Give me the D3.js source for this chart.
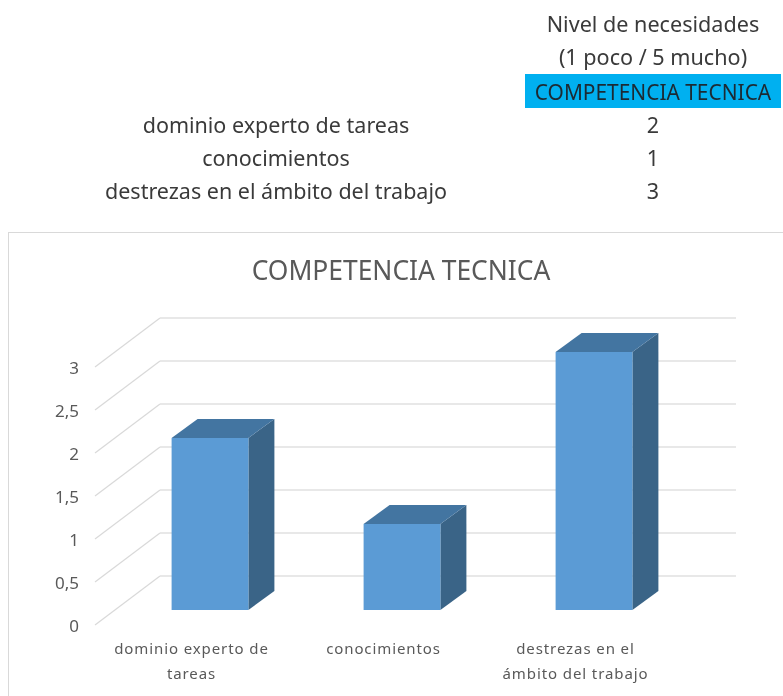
<!DOCTYPE html>
<html>
<head>
<meta charset="utf-8">
<script src="https://cdn.jsdelivr.net/npm/d3@7"></script>
<style>
html, body { margin: 0; padding: 0; background: #fff; }
svg { display: block; filter: blur(0.4px); }
text { font-family: "Noto Sans", sans-serif; }
</style>
</head>
<body>
<div id="chart"></div>
<script>
const categories = ["dominio experto de tareas", "conocimientos", "destrezas en el ámbito del trabajo"];
const values = [2, 1, 3];
const category_lines = [["dominio experto de", "tareas"], ["conocimientos"], ["destrezas en el", "ámbito del trabajo"]];
const y_ticks = [0, 0.5, 1, 1.5, 2, 2.5, 3];
const table_head = ["Nivel de necesidades", "(1 poco / 5 mucho)"];
const chart_title = "COMPETENCIA TECNICA";

var width = 783;
var height = 696;
// offset of the back wall against the front of the floor
var wall = { "dx": 65, "dy": -49 };
// offset of the back of a bar against its front face
var depth = { "dx": 26, "dy": -19 };
var bar_lift = 15;

var svg = d3.select("#chart")
    .append("svg")
    .attr("width", width)
    .attr("height", height);

// table on top
var table_x = 653;
var label_x = 276;
svg.selectAll(".head").data(table_head)
    .enter().append("text")
    .attr("class", "head")
    .attr("x", table_x)
    .attr("y", function (d, i) { return 32 + i * 33; })
    .attr("text-anchor", "middle")
    .attr("font-size", 21.6)
    .attr("fill", "#3a3a3a")
    .text(function (d) { return d; });
svg.append("rect")
    .attr("x", 525).attr("y", 74)
    .attr("width", 256).attr("height", 34)
    .attr("fill", "#00b0f0");
svg.append("text")
    .attr("x", table_x).attr("y", 100)
    .attr("text-anchor", "middle")
    .attr("font-size", 20.9)
    .attr("fill", "#1c2a33")
    .text(chart_title);
svg.selectAll(".row-label").data(categories)
    .enter().append("text")
    .attr("class", "row-label")
    .attr("x", label_x)
    .attr("y", function (d, i) { return 133 + i * 33; })
    .attr("text-anchor", "middle")
    .attr("font-size", 21.5)
    .attr("fill", "#3a3a3a")
    .text(function (d) { return d; });
svg.selectAll(".row-value").data(values)
    .enter().append("text")
    .attr("class", "row-value")
    .attr("x", table_x)
    .attr("y", function (d, i) { return 133 + i * 33; })
    .attr("text-anchor", "middle")
    .attr("font-size", 21.5)
    .attr("fill", "#3a3a3a")
    .text(function (d) { return d; });

// chart frame runs off the picture to the right and bottom
svg.append("rect")
    .attr("x", 8.5).attr("y", 232.5)
    .attr("width", 800).attr("height", 500)
    .attr("fill", "#fff")
    .attr("stroke", "#d9d9d9")
    .attr("stroke-width", 1);
svg.append("text")
    .attr("x", 401).attr("y", 280)
    .attr("text-anchor", "middle")
    .attr("font-size", 26.4)
    .attr("fill", "#595959")
    .text(chart_title);

var y_scale = d3.scaleLinear().domain([0, 3]).range([625, 367]);
var x_scale = d3.scaleBand()
    .domain(categories)
    .range([114, 690])
    .paddingInner(0.6)
    .paddingOuter(0.3);

// gridlines: floor side and back wall
var front_x = 95;
var wall_right = 736;
svg.selectAll(".side-line").data(y_ticks)
    .enter().append("line")
    .attr("class", "side-line")
    .attr("x1", front_x)
    .attr("y1", function (d) { return y_scale(d); })
    .attr("x2", front_x + wall.dx)
    .attr("y2", function (d) { return y_scale(d) + wall.dy; })
    .attr("stroke", "#d9d9d9")
    .attr("stroke-width", 1.2);
svg.selectAll(".back-line").data(y_ticks)
    .enter().append("line")
    .attr("class", "back-line")
    .attr("x1", front_x + wall.dx)
    .attr("y1", function (d) { return y_scale(d) + wall.dy; })
    .attr("x2", wall_right)
    .attr("y2", function (d) { return y_scale(d) + wall.dy; })
    .attr("stroke", "#e0e0e0")
    .attr("stroke-width", 1.4);

// value axis
var y_axis = d3.axisLeft(y_scale)
    .tickValues(y_ticks)
    .tickSize(0)
    .tickPadding(0)
    .tickFormat(function (d) { return String(d).replace(".", ","); });
var y_group = svg.append("g")
    .attr("transform", "translate(79,1.5)")
    .call(y_axis);
y_group.select(".domain").remove();
y_group.selectAll("text")
    .attr("font-size", 17)
    .attr("fill", "#595959")
    .style("font-family", "\"Noto Sans\", sans-serif");

// bars: side, top, then front face
function bar_top(d) { return y_scale(d) - bar_lift; }
function bar_bottom() { return y_scale(0) - bar_lift; }

var bars = svg.selectAll(".bar").data(values)
    .enter().append("g")
    .attr("class", "bar");
bars.append("path")
    .attr("fill", "#3a6487")
    .attr("d", function (d, i) {
        var x1 = x_scale(categories[i]) + x_scale.bandwidth();
        return d3.line()([
            [x1, bar_top(d)],
            [x1 + depth.dx, bar_top(d) + depth.dy],
            [x1 + depth.dx, bar_bottom() + depth.dy],
            [x1, bar_bottom()]
        ]) + "Z";
    });
bars.append("path")
    .attr("fill", "#4375a1")
    .attr("d", function (d, i) {
        var x0 = x_scale(categories[i]);
        var x1 = x0 + x_scale.bandwidth();
        return d3.line()([
            [x0, bar_top(d)],
            [x0 + depth.dx, bar_top(d) + depth.dy],
            [x1 + depth.dx, bar_top(d) + depth.dy],
            [x1, bar_top(d)]
        ]) + "Z";
    });
bars.append("rect")
    .attr("x", function (d, i) { return x_scale(categories[i]); })
    .attr("y", function (d) { return bar_top(d); })
    .attr("width", x_scale.bandwidth())
    .attr("height", function (d) { return bar_bottom() - bar_top(d); })
    .attr("fill", "#5b9bd5");

// category labels sit left of the bar centres because of the perspective
var cat_labels = svg.selectAll(".cat-label").data(category_lines)
    .enter().append("text")
    .attr("class", "cat-label")
    .attr("text-anchor", "middle")
    .attr("font-size", 15)
    .attr("letter-spacing", 0.9)
    .attr("fill", "#595959");
cat_labels.selectAll("tspan").data(function (d, i) {
        return d.map(function (line, j) { return { "line": line, "row": j, "cat": i }; });
    })
    .enter().append("tspan")
    .attr("x", function (d) { return x_scale(categories[d.cat]) + x_scale.bandwidth() / 2 - 18.5; })
    .attr("y", function (d) { return 654 + d.row * 25; })
    .text(function (d) { return d.line; });
</script>
</body>
</html>
